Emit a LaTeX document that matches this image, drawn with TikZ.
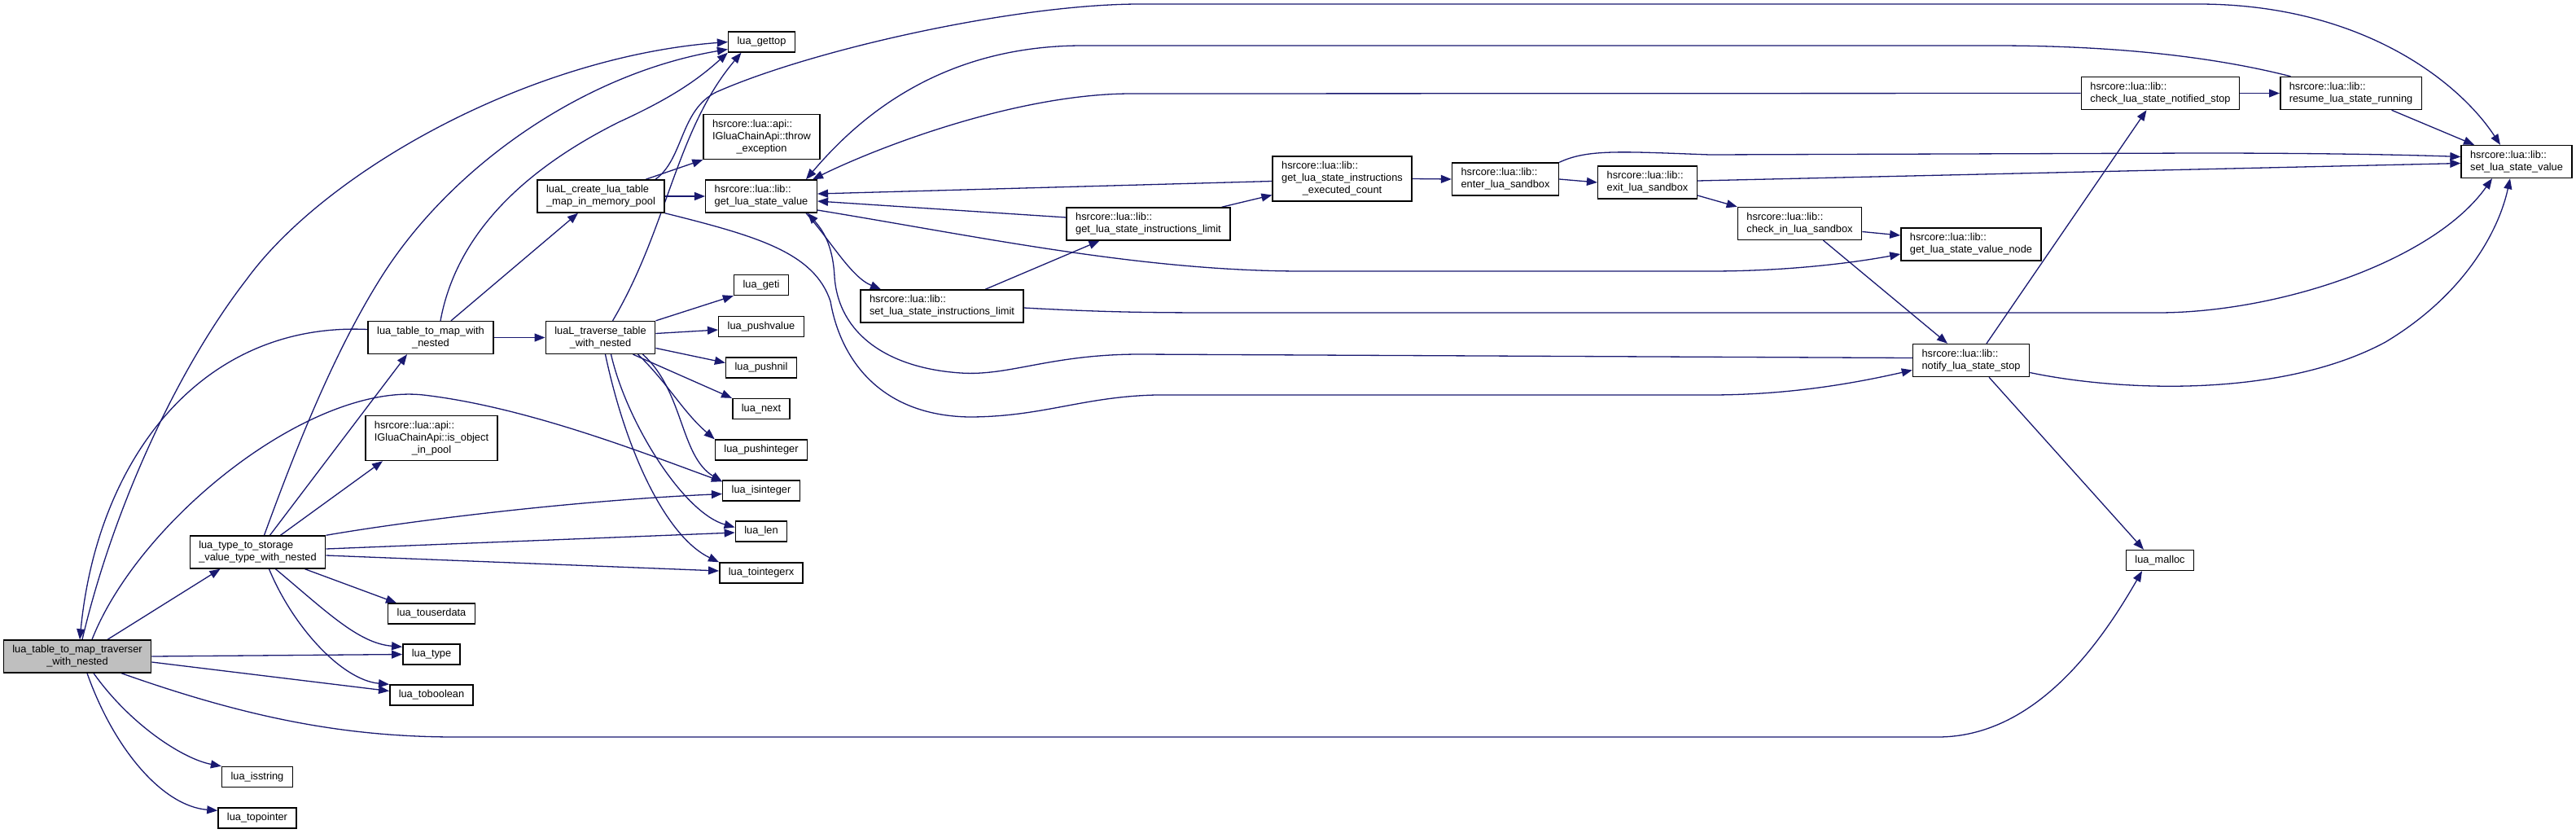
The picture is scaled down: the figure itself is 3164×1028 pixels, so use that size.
\documentclass[tikz,border=0pt]{standalone}
\usepackage{fontspec}
\setmainfont{Liberation Sans}
\usetikzlibrary{arrows.meta,backgrounds}
\definecolor{edgeblue}{HTML}{191970}
\definecolor{rootgray}{HTML}{BFBFBF}
\newcommand\fnfont{\fontsize{12.8}{15}\selectfont}

\begin{document}
\begin{tikzpicture}[x=1pt,y=-1pt,
  fn/.style={draw=black,line width=1.5pt,fill=white,inner xsep=11pt,inner ysep=6.5pt,font=\fnfont,align=left},
  fnc/.style={fn,align=center},
  call/.style={draw=edgeblue,line width=1.3pt,-{Triangle[length=13pt,width=10pt]}}]
  \useasboundingbox (0,0) rectangle (3164,1028);
  % rank 0: the function itself
  \node[fnc,fill=rootgray] (traverser) at (95,806) {lua\_table\_to\_map\_traverser\\\_with\_nested};
  % rank 1
  \node[fn] (storage) at (316.5,678) {lua\_type\_to\_storage\\\_value\_type\_with\_nested};
  \node[fn] (isstring) at (316,954) {lua\_isstring};
  \node[fn] (topointer) at (316,1004.5) {lua\_topointer};
  % rank 2
  \node[fnc] (tomap) at (529,414.5) {lua\_table\_to\_map\_with\\\_nested};
  \node[fn] (inpool) at (530,538) {hsrcore::lua::api::\\IGluaChainApi::is\_object\\\hfil\_in\_pool};
  \node[fn] (touserdata) at (530,753.5) {lua\_touserdata};
  \node[fn] (type) at (530,803.5) {lua\_type};
  \node[fn] (toboolean) at (530,853.5) {lua\_toboolean};
  % rank 3
  \node[fn] (create) at (738,241) {luaL\_create\_lua\_table\\\_map\_in\_memory\_pool};
  \node[fnc] (traverse) at (737.5,414.5) {luaL\_traverse\_table\\\_with\_nested};
  % rank 4
  \node[fn] (gettop) at (935.5,51.5) {lua\_gettop};
  \node[fn] (throw) at (935.5,168) {hsrcore::lua::api::\\IGluaChainApi::throw\\\hfil\_exception};
  \node[fn] (getvalue) at (935,241) {hsrcore::lua::lib::\\get\_lua\_state\_value};
  \node[fn] (geti) at (935,350) {lua\_geti};
  \node[fn] (pushvalue) at (935,401) {lua\_pushvalue};
  \node[fn] (pushnil) at (935,451.5) {lua\_pushnil};
  \node[fn] (next) at (935,502) {lua\_next};
  \node[fn] (pushinteger) at (935,552.5) {lua\_pushinteger};
  \node[fn] (isinteger) at (935,602.5) {lua\_isinteger};
  \node[fn] (len) at (935,652.5) {lua\_len};
  \node[fn] (tointegerx) at (935,703.5) {lua\_tointegerx};
  % ranks 5 to 14
  \node[fn] (setlimit) at (1157,376) {hsrcore::lua::lib::\\set\_lua\_state\_instructions\_limit};
  \node[fn] (getlimit) at (1410.5,275) {hsrcore::lua::lib::\\get\_lua\_state\_instructions\_limit};
  \node[fn] (executed) at (1648.5,219.5) {hsrcore::lua::lib::\\get\_lua\_state\_instructions\\\hfil\_executed\_count};
  \node[fn] (enter) at (1849,220) {hsrcore::lua::lib::\\enter\_lua\_sandbox};
  \node[fn] (exit) at (2023.5,224) {hsrcore::lua::lib::\\exit\_lua\_sandbox};
  \node[fn] (checkin) at (2210.5,274.5) {hsrcore::lua::lib::\\check\_in\_lua\_sandbox};
  \node[fn] (valuenode) at (2421,300) {hsrcore::lua::lib::\\get\_lua\_state\_value\_node};
  \node[fn] (notify) at (2421,442.5) {hsrcore::lua::lib::\\notify\_lua\_state\_stop};
  \node[fn] (notified) at (2653.5,114.5) {hsrcore::lua::lib::\\check\_lua\_state\_notified\_stop};
  \node[fn] (malloc) at (2653,688) {lua\_malloc};
  \node[fn] (resume) at (2887.5,114.5) {hsrcore::lua::lib::\\resume\_lua\_state\_running};
  \node[fn] (setvalue) at (3091,198.5) {hsrcore::lua::lib::\\set\_lua\_state\_value};

  \begin{scope}[on background layer]
  % calls of the function itself
  \draw[call] ([xshift=6pt]traverser.north) .. controls (140,620) and (220,450) .. (303,343) .. controls (400,210) and (650,70) .. (gettop.west);
  \draw[call] ([xshift=18pt]traverser.north) .. controls (170,640) and (380,470) .. (520,485) .. controls (650,500) and (800,560) .. ([yshift=-2pt]isinteger.north west);
  \draw[call] ([xshift=37pt]traverser.north) -- ([xshift=-46pt]storage.south);
  \draw[call] (traverser.east) -- (type.west);
  \draw[call] ([yshift=-7pt]traverser.east) -- ([yshift=5pt]toboolean.west);
  \draw[call] ([xshift=54pt]traverser.south) .. controls (300,880) and (420,905) .. (560,905) -- (2380,905) .. controls (2500,905) and (2580,790) .. ([xshift=-22pt]malloc.south);
  \draw[call] ([xshift=20pt]traverser.south) .. controls (160,890) and (225,932) .. (isstring.north west);
  \draw[call] ([xshift=12pt]traverser.south) .. controls (140,920) and (200,990) .. ([yshift=-4pt]topointer.north west);
  % lua_table_to_map_with_nested calls back
  \draw[call] ([yshift=10pt]tomap.west) .. controls (250,395) and (120,560) .. ([xshift=3pt]traverser.north);
  % lua_type_to_storage_value_type_with_nested
  \draw[call] ([xshift=8pt]storage.north) .. controls (360,560) and (410,430) .. (473,333) .. controls (560,200) and (720,90) .. ([yshift=-9pt]gettop.west);
  \draw[call] ([xshift=15pt]storage.north) -- ([xshift=-29pt]tomap.south);
  \draw[call] ([xshift=28pt]storage.north) -- ([xshift=-60pt]inpool.south);
  \draw[call] (storage.north east) .. controls (500,640) and (700,615) .. ([yshift=-4pt]isinteger.west);
  \draw[call] ([yshift=4pt]storage.east) -- ([yshift=-1.5pt]len.west);
  \draw[call] ([yshift=-4pt]storage.east) -- ([yshift=2.5pt]tointegerx.west);
  \draw[call] ([xshift=58pt]storage.south) -- ([xshift=-43pt]touserdata.north);
  \draw[call] ([xshift=22pt]storage.south) .. controls (400,750) and (440,790) .. ([yshift=-4pt]type.north west);
  \draw[call] ([xshift=14pt]storage.south) .. controls (360,770) and (420,835) .. (toboolean.north west);
  % lua_table_to_map_with_nested
  \draw[call] ([xshift=12pt]tomap.north) .. controls (560,290) and (640,210) .. (760,150) .. controls (830,118) and (860,95) .. (gettop.south west);
  \draw[call] ([xshift=25pt]tomap.north) -- ([xshift=-28pt]create.south);
  \draw[call] (tomap.east) -- (traverse.west);
  % luaL_create_lua_table_map_in_memory_pool
  \draw[call] ([xshift=55pt]create.north) -- (throw.south west);
  \draw[call] (create.east) -- (getvalue.west);
  \draw[call] ([xshift=67pt]create.north) .. controls (840,195) and (835,135) .. (880,113) .. controls (1000,60) and (1250,5) .. (1400,5) -- (2700,5) .. controls (2900,5) and (3020,100) .. ([xshift=-20pt]setvalue.north);
  \draw[call] (create.south east) .. controls (930,290) and (1000,310) .. (1020,370) .. controls (1032,440) and (1080,510) .. (1190,512) .. controls (1280,512) and (1330,487) .. (1420,485) -- (2100,485) .. controls (2200,485) and (2280,470) .. ([yshift=-12pt]notify.west);
  % luaL_traverse_table_with_nested
  \draw[call] ([xshift=15pt]traverse.north) .. controls (820,280) and (830,160) .. ([xshift=-25pt]gettop.south);
  \draw[call] (traverse.north east) -- (geti.south west);
  \draw[call] ([yshift=5pt]traverse.east) -- ([yshift=-4pt]pushvalue.west);
  \draw[call] ([yshift=-13pt]traverse.east) -- ([yshift=6pt]pushnil.west);
  \draw[call] ([xshift=40pt]traverse.south) -- (next.north west);
  \draw[call] ([xshift=46pt]traverse.south) .. controls (820,470) and (838,505) .. (pushinteger.north west);
  \draw[call] ([xshift=52pt]traverse.south) .. controls (840,480) and (835,560) .. ([yshift=-2pt]isinteger.north west);
  \draw[call] ([xshift=13pt]traverse.south) .. controls (770,520) and (840,630) .. ([yshift=5pt]len.west);
  \draw[call] ([xshift=6pt]traverse.south) .. controls (770,560) and (820,660) .. (tointegerx.north west);
  % get_lua_state_value
  \draw[call] ([yshift=-17pt]getvalue.east) .. controls (1200,290) and (1400,333) .. (1600,333) -- (2100,333) .. controls (2200,333) and (2280,322) .. ([yshift=-12pt]valuenode.west);
  \draw[call] ([xshift=55pt]getvalue.south) .. controls (1020,295) and (1045,340) .. ([xshift=-75pt]setlimit.north);
  % instruction limits
  \draw[call] ([xshift=53pt]setlimit.north) -- ([xshift=-60pt]getlimit.south);
  \draw[call] ([yshift=-2pt]setlimit.east) .. controls (1350,383) and (1400,384) .. (1500,384) -- (2650,384) .. controls (2800,384) and (2990,320) .. ([xshift=-30pt]setvalue.south);
  \draw[call] ([yshift=8pt]getlimit.west) -- ([yshift=-6pt]getvalue.east);
  \draw[call] ([xshift=90pt]getlimit.north) -- ([yshift=-20pt]executed.west);
  \draw[call] ([yshift=-3pt]executed.west) -- ([yshift=3pt]getvalue.east);
  \draw[call] (executed.east) -- (enter.west);
  % sandbox
  \draw[call] (enter.east) -- (exit.west);
  \draw[call] (enter.north east) .. controls (1950,183) and (1990,186) .. (2100,190) -- (2700,188) .. controls (2850,188) and (2950,190) .. ([yshift=6pt]setvalue.west);
  \draw[call] ([yshift=2pt]exit.east) -- ([yshift=-2pt]setvalue.west);
  \draw[call] ([yshift=-16pt]exit.east) -- (checkin.north west);
  \draw[call] ([yshift=-10pt]checkin.east) -- ([yshift=11pt]valuenode.west);
  \draw[call] ([xshift=29pt]checkin.south) -- ([xshift=-29pt]notify.north);
  % notify_lua_state_stop
  \draw[call] ([yshift=3pt]notify.west) -- (1400,435) .. controls (1290,435) and (1240,462) .. (1180,458) .. controls (1090,452) and (1030,410) .. (1025,340) .. controls (1023,300) and (1010,282) .. ([xshift=57pt]getvalue.south);
  \draw[call] ([xshift=19pt]notify.north) -- ([xshift=-17pt]notified.south);
  \draw[call] ([yshift=-15pt]notify.east) .. controls (2600,480) and (2800,490) .. (2930,420) .. controls (3030,360) and (3070,280) .. ([xshift=-8pt]setvalue.south);
  \draw[call] ([xshift=22pt]notify.south) -- ([xshift=-20pt]malloc.north);
  % check_lua_state_notified_stop and resume_lua_state_running
  \draw[call] (notified.east) -- (resume.west);
  \draw[call] (notified.west) -- (1390,115) .. controls (1250,115) and (1080,180) .. ([xshift=63pt]getvalue.north);
  \draw[call] ([xshift=-74pt]resume.north) .. controls (2720,70) and (2600,56) .. (2450,56) -- (1330,56) .. controls (1150,56) and (1050,150) .. ([xshift=55pt]getvalue.north);
  \draw[call] ([xshift=50pt]resume.south) -- ([xshift=-52pt]setvalue.north);
  \end{scope}
\end{tikzpicture}
\end{document}
